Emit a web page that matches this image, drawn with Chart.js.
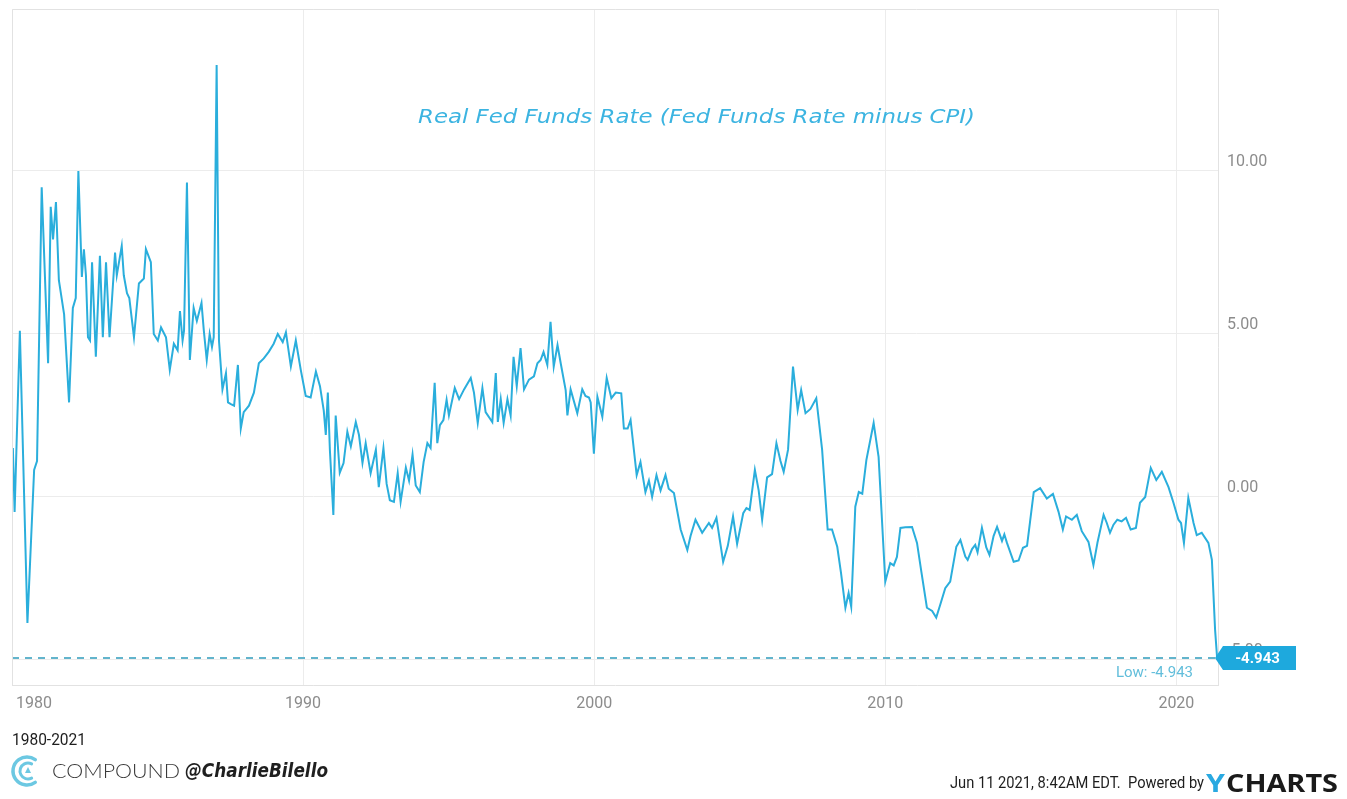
<!DOCTYPE html>
<html>
<head>
<meta charset="utf-8">
<title>Real Fed Funds Rate</title>
<script src="https://cdn.jsdelivr.net/npm/chart.js@4.4.0/dist/chart.umd.min.js"></script>
<style>
  html, body { margin: 0; padding: 0; background: #fff; }
  #wrap { position: relative; width: 1347px; height: 799px; }
</style>
</head>
<body>
<div id="wrap"><canvas id="rateChart"></canvas></div>
<script>
// dates as decimal years, values in % (Fed Funds Rate minus CPI)
const dates = [
  1980.03, 1980.09, 1980.27, 1980.53, 1980.76, 1980.86, 1981.02, 1981.24, 1981.33, 1981.41, 1981.51, 1981.61, 1981.79, 1981.96,
  1982.09, 1982.19, 1982.28, 1982.40, 1982.47, 1982.54, 1982.61, 1982.68, 1982.75, 1982.88, 1983.02, 1983.12, 1983.23, 1983.35, 1983.54, 1983.60, 1983.77, 1983.84, 1983.95,
  1984.03, 1984.19, 1984.36, 1984.53, 1984.60, 1984.77, 1984.87, 1985.01, 1985.12, 1985.29, 1985.42, 1985.56, 1985.69, 1985.77, 1985.86, 1985.91,
  1986.01, 1986.11, 1986.24, 1986.35, 1986.51, 1986.59, 1986.69, 1986.79, 1986.87, 1986.93, 1987.03, 1987.11, 1987.23, 1987.35, 1987.42, 1987.52, 1987.63, 1987.76, 1987.86, 1987.96,
  1988.14, 1988.31, 1988.48, 1988.65, 1988.82, 1988.99, 1989.13, 1989.30, 1989.41, 1989.58, 1989.75, 1989.92,
  1990.09, 1990.26, 1990.44, 1990.58, 1990.71, 1990.78, 1990.85, 1990.92, 1991.04, 1991.12, 1991.26, 1991.39, 1991.52, 1991.64, 1991.81, 1991.92,
  1992.04, 1992.15, 1992.32, 1992.50, 1992.60, 1992.76, 1992.87, 1992.98, 1993.12, 1993.25, 1993.35, 1993.53, 1993.64, 1993.76, 1993.87,
  1994.01, 1994.14, 1994.27, 1994.38, 1994.52, 1994.61, 1994.70, 1994.82, 1994.93, 1995.01, 1995.21, 1995.36, 1995.53, 1995.76, 1995.87,
  1996.00, 1996.16, 1996.27, 1996.50, 1996.62, 1996.69, 1996.79, 1996.89, 1997.02, 1997.13, 1997.23, 1997.34, 1997.47, 1997.59, 1997.76, 1997.93,
  1998.05, 1998.16, 1998.26, 1998.39, 1998.50, 1998.61, 1998.74, 1998.85, 1999.02, 1999.08, 1999.19, 1999.42, 1999.59, 1999.70, 1999.82, 1999.88, 1999.99,
  2000.11, 2000.28, 2000.43, 2000.59, 2000.74, 2000.93, 2001.02, 2001.15, 2001.25, 2001.46, 2001.59, 2001.76, 2001.88, 2001.99,
  2002.14, 2002.28, 2002.45, 2002.56, 2002.74, 2002.97, 2003.20, 2003.31, 2003.48, 2003.71, 2003.94,
  2004.05, 2004.20, 2004.43, 2004.59, 2004.77, 2004.91, 2005.12, 2005.23, 2005.34, 2005.52, 2005.65, 2005.77, 2005.94,
  2006.11, 2006.26, 2006.40, 2006.51, 2006.66, 2006.83, 2006.99, 2007.11, 2007.26, 2007.43, 2007.63, 2007.83,
  2008.02, 2008.17, 2008.35, 2008.48, 2008.63, 2008.74, 2008.83, 2008.97, 2009.09, 2009.21, 2009.35, 2009.60, 2009.77,
  2010.00, 2010.17, 2010.29, 2010.40, 2010.52, 2010.69, 2010.92, 2011.09, 2011.24, 2011.43, 2011.61, 2011.75, 2011.89,
  2012.06, 2012.23, 2012.44, 2012.58, 2012.75, 2012.83, 2012.98, 2013.09, 2013.17, 2013.32, 2013.47, 2013.58, 2013.72, 2013.84,
  2014.01, 2014.09, 2014.18, 2014.41, 2014.58, 2014.73, 2014.87, 2015.10, 2015.32, 2015.55, 2015.76, 2015.95,
  2016.10, 2016.21, 2016.41, 2016.58, 2016.75, 2016.98, 2017.15, 2017.29, 2017.50, 2017.61, 2017.72, 2017.84, 2017.97,
  2018.12, 2018.27, 2018.43, 2018.61, 2018.75, 2018.93, 2019.12, 2019.31, 2019.50, 2019.73, 2019.90,
  2020.07, 2020.16, 2020.26, 2020.41, 2020.59, 2020.70, 2020.87, 2021.10, 2021.22, 2021.33, 2021.40
];

const realRate = [
  1.5, -0.46, 5.1, -3.87, 0.83, 1.1, 9.5, 4.1, 8.9, 7.9, 9.05, 6.65, 5.6, 2.9,
  5.8, 6.1, 10.0, 6.75, 7.6, 6.8, 4.9, 4.8, 7.2, 4.3, 7.4, 4.9, 7.2, 4.9, 7.5, 6.8, 7.7, 6.8, 6.25,
  6.1, 4.9, 6.55, 6.7, 7.6, 7.2, 5.0, 4.8, 5.2, 4.9, 3.9, 4.7, 4.5, 5.7, 4.8, 5.1,
  9.65, 4.2, 5.8, 5.4, 5.95, 5.1, 4.2, 5.0, 4.6, 4.9, 13.25, 4.8, 3.3, 3.8, 2.9, 2.85, 2.8, 4.05, 2.1, 2.6,
  2.8, 3.2, 4.1, 4.25, 4.45, 4.7, 5.0, 4.75, 5.05, 4.0, 4.8, 3.9,
  3.1, 3.05, 3.85, 3.4, 2.65, 1.9, 3.2, 1.45, -0.55, 2.5, 0.74, 1.04, 2.0, 1.55, 2.3, 1.9,
  1.04, 1.65, 0.73, 1.45, 0.3, 1.5, 0.4, -0.1, -0.15, 0.73, -0.15, 0.9, 0.5, 1.3, 0.35,
  0.15, 1.07, 1.65, 1.5, 3.5, 1.65, 2.2, 2.36, 2.98, 2.5, 3.34, 3.0, 3.3, 3.65, 3.2,
  2.27, 3.34, 2.6, 2.3, 3.8, 2.3, 3.0, 2.27, 3.0, 2.5, 4.3, 3.4, 4.57, 3.3, 3.6, 3.7,
  4.1, 4.2, 4.45, 4.05, 5.37, 4.0, 4.66, 4.1, 3.28, 2.5, 3.3, 2.57, 3.3, 3.1, 3.05, 2.9, 1.33,
  3.07, 2.46, 3.65, 3.03, 3.2, 3.18, 2.1, 2.1, 2.36, 0.67, 1.07, 0.15, 0.5, 0.0,
  0.67, 0.2, 0.67, 0.25, 0.12, -1.0, -1.63, -1.2, -0.7, -1.1, -0.8,
  -0.95, -0.64, -1.99, -1.5, -0.6, -1.44, -0.5, -0.34, -0.4, 0.83, 0.2, -0.7, 0.6,
  0.7, 1.65, 1.1, 0.77, 1.45, 4.0, 2.67, 3.28, 2.57, 2.7, 3.03, 1.45,
  -1.0, -1.0, -1.53, -2.34, -3.4, -2.95, -3.37, -0.3, 0.15, 0.1, 1.13, 2.27, 1.23,
  -2.6, -2.03, -2.1, -1.84, -0.95, -0.93, -0.92, -1.41, -2.3, -3.4, -3.5, -3.7, -3.3,
  -2.8, -2.6, -1.53, -1.32, -1.83, -1.93, -1.6, -1.47, -1.7, -0.95, -1.55, -1.78, -1.2, -0.92,
  -1.35, -1.15, -1.41, -1.99, -1.95, -1.56, -1.5, 0.15, 0.27, -0.05, 0.09, -0.45,
  -1.0, -0.6, -0.7, -0.55, -1.05, -1.38, -2.09, -1.4, -0.55, -0.8, -1.1, -0.85, -0.7,
  -0.75, -0.64, -1.0, -0.95, -0.18, 0.0, 0.89, 0.52, 0.77, 0.3, -0.18,
  -0.7, -0.8, -1.41, -0.03, -0.8, -1.17, -1.1, -1.41, -1.93, -4.08, -4.943
];

const xTickYears = [1980, 1990, 2000, 2010, 2020];
const yTickValues = [-5, 0, 5, 10];
const lowValue = -4.943;
const xMin = 1980, xMax = 2021.43;
const yMin = -5.77, yMax = 14.97;

const chartTitle = "Real Fed Funds Rate (Fed Funds Rate minus CPI)";
const rangeText = "1980-2021";
const stampText = "Jun 11 2021, 8:42AM EDT.  Powered by";

const lineColor = "#2aaedc";
const gridColor = "#ececec";
const tickFont = "Roboto, 'DejaVu Sans', sans-serif";

// draw text squeezed/stretched horizontally to a given width
function fitText(ctx, text, x, y, width, font, color) {
    ctx.save();
    ctx.font = font;
    const w = ctx.measureText(text).width;
    ctx.translate(x, y);
    ctx.scale(width / w, 1);
    ctx.fillStyle = color;
    ctx.textAlign = "left";
    ctx.textBaseline = "middle";
    ctx.fillText(text, 0, 0);
    ctx.restore();
}

const decorPlugin = {
    id: "decor",
    beforeDraw(chart) {
        const ctx = chart.ctx;
        ctx.save();
        ctx.fillStyle = "#fff";
        ctx.fillRect(0, 0, chart.width, chart.height);
        ctx.restore();
    },
    afterDatasetsDraw(chart) {
        const { ctx, chartArea: a, scales } = chart;
        const yLow = scales.y.getPixelForValue(lowValue);

        // top + left frame lines
        ctx.save();
        ctx.strokeStyle = "#e2e2e2";
        ctx.lineWidth = 1;
        ctx.beginPath();
        ctx.moveTo(a.left + 0.5, a.bottom);
        ctx.lineTo(a.left + 0.5, a.top + 0.5);
        ctx.lineTo(a.right, a.top + 0.5);
        ctx.stroke();

        // "Low" caption under the dashed line
        ctx.font = "15px " + tickFont;
        ctx.fillStyle = "#62bedb";
        ctx.textAlign = "right";
        ctx.textBaseline = "middle";
        ctx.fillText("Low: " + lowValue.toFixed(3), a.right - 25, yLow + 15);

        // last value badge
        const bx = a.right + 5, bw = 73, bh = 24;
        ctx.fillStyle = "#1ea9dd";
        ctx.beginPath();
        ctx.moveTo(a.right - 3, yLow);
        ctx.lineTo(bx, yLow - bh / 2);
        ctx.lineTo(bx + bw, yLow - bh / 2);
        ctx.lineTo(bx + bw, yLow + bh / 2);
        ctx.lineTo(bx, yLow + bh / 2);
        ctx.closePath();
        ctx.fill();
        ctx.fillStyle = "#fff";
        ctx.font = "bold 15px " + tickFont;
        ctx.textAlign = "center";
        ctx.fillText(realRate[realRate.length - 1].toFixed(3), bx + bw / 2 - 2, yLow + 1);
        ctx.restore();
    },
    afterDraw(chart) {
        const { ctx, scales } = chart;

        // first x label sits inside the frame, left aligned
        ctx.save();
        ctx.font = "16px " + tickFont;
        ctx.fillStyle = "#8c8c8c";
        ctx.textAlign = "left";
        ctx.textBaseline = "middle";
        ctx.fillText(String(xTickYears[0]), scales.x.getPixelForValue(xTickYears[0]) + 4, 704);
        ctx.restore();

        // title
        fitText(ctx, chartTitle, 418, 118, 557, "italic 20px 'DejaVu Sans', sans-serif", "#3cb4e1");

        // footer left
        fitText(ctx, rangeText, 12, 741, 74, "16px Roboto, sans-serif", "#1e1e1e");

        ctx.save();
        ctx.strokeStyle = "#6cc8e2";
        ctx.lineCap = "round";
        ctx.lineWidth = 3.5;
        ctx.beginPath();
        ctx.arc(27, 771, 14, Math.PI * 0.3, Math.PI * 1.7);
        ctx.stroke();
        ctx.lineWidth = 3;
        ctx.beginPath();
        ctx.arc(28, 771, 8, Math.PI * 0.35, Math.PI * 1.65);
        ctx.stroke();
        ctx.fillStyle = "#6cc8e2";
        ctx.beginPath();
        ctx.moveTo(28, 767);
        ctx.lineTo(31, 773);
        ctx.lineTo(25, 773);
        ctx.closePath();
        ctx.fill();
        ctx.restore();

        fitText(ctx, "COMPOUND", 52, 772, 128, "300 20px Lato, 'Open Sans', sans-serif", "#3a3a3a");
        fitText(ctx, "@CharlieBilello", 185, 772, 143, "italic bold 19px 'DejaVu Sans', sans-serif", "#1f1f1f");

        // footer right
        fitText(ctx, stampText, 950, 784, 254, "17px Roboto, sans-serif", "#1e1e1e");
        fitText(ctx, "Y", 1206, 785, 19, "bold 25px 'Open Sans', sans-serif", "#29a9e1");
        fitText(ctx, "CHARTS", 1226, 785, 112, "bold 25px 'Open Sans', sans-serif", "#1a1a1a");
    }
};

const chart = new Chart(document.getElementById("rateChart"), {
    type: "line",
    data: {
        datasets: [
            {
                label: "Real Fed Funds Rate",
                data: dates.map((d, i) => ({ x: d, y: realRate[i] })),
                borderColor: lineColor,
                borderWidth: 2,
                pointRadius: 0,
                tension: 0,
                fill: false
            },
            {
                label: "Low",
                data: [{ x: xMin, y: lowValue }, { x: xMax, y: lowValue }],
                borderColor: "#62b4cc",
                borderWidth: 2,
                borderDash: [7, 6],
                pointRadius: 0,
                fill: false
            }
        ]
    },
    options: {
        responsive: true,
        maintainAspectRatio: false,
        animation: false,
        layout: { padding: { left: 12, top: 9, right: 0, bottom: 0 }, autoPadding: false },
        plugins: {
            legend: { display: false },
            tooltip: { enabled: false }
        },
        scales: {
            x: {
                type: "linear",
                position: "bottom",
                min: xMin,
                max: xMax,
                afterBuildTicks: s => { s.ticks = xTickYears.map(v => ({ value: v })); },
                afterFit: s => { s.height = 114; s.paddingLeft = 0; s.paddingRight = 0; },
                grid: { color: gridColor, drawTicks: false },
                border: { color: "#e2e2e2" },
                ticks: {
                    padding: 9,
                    maxRotation: 0,
                    color: "#8c8c8c",
                    font: { family: tickFont, size: 16 },
                    callback: v => (v === xTickYears[0] ? "" : String(v))
                }
            },
            y: {
                position: "right",
                min: yMin,
                max: yMax,
                afterBuildTicks: s => { s.ticks = yTickValues.map(v => ({ value: v })); },
                afterFit: s => { s.width = 129; s.paddingTop = 0; s.paddingBottom = 0; },
                grid: { color: gridColor, drawTicks: false },
                border: { color: "#e2e2e2" },
                ticks: {
                    padding: 9,
                    labelOffset: -9,
                    color: "#8c8c8c",
                    font: { family: tickFont, size: 16 },
                    callback: v => v.toFixed(2)
                }
            }
        }
    },
    plugins: [decorPlugin]
});
</script>
</body>
</html>
